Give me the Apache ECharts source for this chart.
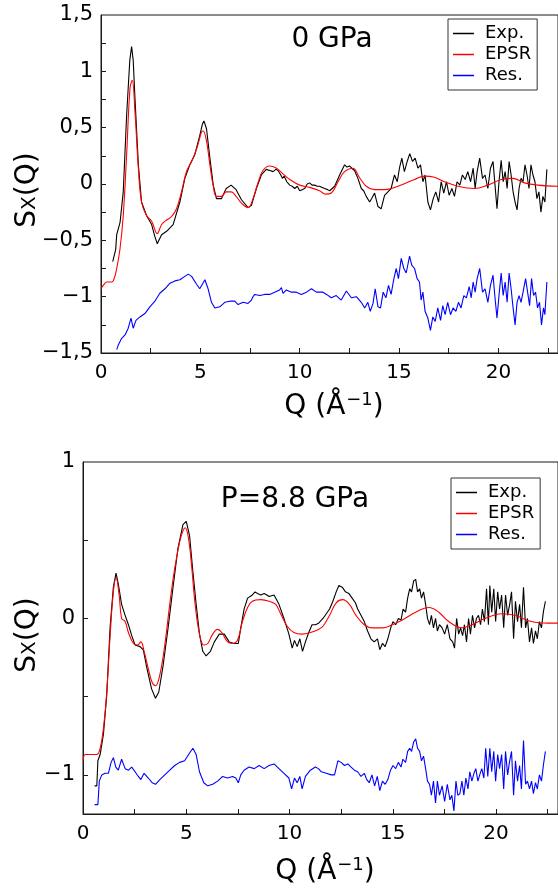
<!DOCTYPE html>
<html>
<head>
<meta charset="utf-8">
<script src="https://cdn.jsdelivr.net/npm/echarts@6/dist/echarts.min.js"></script>
<style>
  html, body { margin: 0; padding: 0; background: #fff; }
  #chart { width: 558px; height: 894px; }
</style>
</head>
<body>
<div id="chart"></div>
<script>
// ---- Panel labels and tick values ----
const panelTitles = ['0 GPa', 'P=8.8 GPa'];
const seriesNames = ['Exp.', 'EPSR', 'Res.'];
const qTicks = [2.5, 5, 7.5, 10, 12.5, 15, 17.5, 20, 22.5];
const qLabels = [0, 5, 10, 15, 20];
const topYTicks = [-1.25, -1, -0.75, -0.5, -0.25, 0, 0.25, 0.5, 0.75, 1, 1.25];
const topYLabels = [-1.5, -1, -0.5, 0, 0.5, 1, 1.5];
const bottomYTicks = [-1, -0.5, 0, 0.5];
const bottomYLabels = [-1, 0, 1];

// ---- 0 GPa: [Q, S(Q)] ----
const exp0 = [[0.59,-0.69],[0.69,-0.70],[0.74,-0.58],[0.79,-0.45],[0.96,-0.34],[1.12,-0.07],[1.29,0.61],[1.45,1.10],[1.54,1.22],[1.62,1.10],[1.71,0.76],[1.88,0.17],[2.04,-0.16],[2.29,-0.28],[2.55,-0.36],[2.70,-0.46],[2.83,-0.53],[3.05,-0.45],[3.30,-0.42],[3.63,-0.36],[3.97,-0.16],[4.22,0.05],[4.47,0.17],[4.72,0.26],[4.97,0.43],[5.10,0.53],[5.18,0.56],[5.31,0.49],[5.48,0.23],[5.65,-0.01],[5.81,-0.13],[6.06,-0.13],[6.30,-0.04],[6.55,-0.01],[6.80,-0.05],[7.07,-0.14],[7.40,-0.21],[7.57,-0.19],[7.82,-0.04],[8.07,0.08],[8.32,0.13],[8.50,0.12],[8.66,0.11],[8.80,0.13],[8.91,0.12],[9.05,0.08],[9.13,0.05],[9.22,0.07],[9.35,0.02],[9.50,-0.01],[9.62,-0.02],[9.75,-0.04],[9.88,-0.02],[10.00,-0.06],[10.12,-0.05],[10.25,-0.04],[10.38,0.00],[10.50,0.01],[10.62,-0.01],[10.75,-0.01],[10.88,-0.02],[11.00,-0.02],[11.13,-0.03],[11.26,-0.04],[11.40,-0.05],[11.51,-0.06],[11.60,-0.05],[11.76,-0.02],[12.01,0.08],[12.26,0.17],[12.38,0.15],[12.51,0.16],[12.62,0.14],[12.76,0.12],[12.93,0.05],[13.10,-0.04],[13.22,-0.06],[13.35,-0.11],[13.52,-0.16],[13.65,-0.12],[13.77,-0.08],[13.94,-0.20],[14.10,-0.22],[14.27,-0.10],[14.44,-0.07],[14.60,-0.04],[14.77,0.08],[14.91,0.02],[15.02,0.14],[15.14,0.23],[15.27,0.11],[15.41,0.20],[15.54,0.27],[15.68,0.20],[15.81,0.23],[15.95,0.14],[16.08,0.17],[16.20,0.02],[16.31,0.08],[16.45,-0.16],[16.58,-0.23],[16.72,-0.13],[16.85,-0.07],[16.99,-0.16],[17.12,0.02],[17.25,-0.08],[17.39,0.02],[17.52,-0.10],[17.66,-0.04],[17.79,-0.11],[17.92,0.02],[18.06,-0.01],[18.19,0.08],[18.33,0.04],[18.46,0.11],[18.60,0.02],[18.73,0.14],[18.83,-0.04],[18.93,0.11],[19.06,0.23],[19.20,0.05],[19.33,0.08],[19.47,-0.04],[19.60,0.14],[19.73,0.20],[19.83,-0.01],[19.93,-0.22],[20.03,0.02],[20.14,0.21],[20.24,0.02],[20.34,0.11],[20.44,-0.04],[20.54,0.20],[20.64,0.08],[20.74,-0.07],[20.84,-0.16],[20.94,-0.23],[21.04,-0.04],[21.14,0.05],[21.24,0.02],[21.34,0.17],[21.44,0.08],[21.54,-0.04],[21.64,0.17],[21.74,0.08],[21.84,0.02],[21.94,-0.13],[22.04,-0.07],[22.14,-0.25],[22.24,-0.11],[22.34,-0.16],[22.44,0.13]];
const epsr0 = [[0,-0.93],[0.15,-0.89],[0.29,-0.87],[0.54,-0.87],[0.68,-0.83],[0.79,-0.75],[0.96,-0.57],[1.12,-0.28],[1.29,0.26],[1.46,0.85],[1.57,0.92],[1.71,0.64],[1.88,0.14],[2.04,-0.16],[2.29,-0.28],[2.55,-0.33],[2.83,-0.44],[3.05,-0.36],[3.30,-0.32],[3.55,-0.29],[3.80,-0.22],[4.05,-0.07],[4.30,0.11],[4.56,0.20],[4.81,0.31],[5.06,0.46],[5.14,0.47],[5.31,0.38],[5.48,0.17],[5.65,-0.02],[5.81,-0.11],[6.06,-0.11],[6.30,-0.07],[6.55,-0.07],[6.80,-0.11],[7.07,-0.17],[7.40,-0.21],[7.65,-0.13],[7.90,0.01],[8.15,0.12],[8.49,0.16],[8.83,0.14],[9.16,0.09],[9.50,0.04],[10.00,-0.01],[10.50,-0.03],[11.00,-0.06],[11.30,-0.09],[11.59,-0.08],[11.93,0.02],[12.26,0.11],[12.68,0.14],[13.00,0.06],[13.35,-0.02],[13.77,-0.05],[14.27,-0.05],[14.94,-0.02],[15.78,0.04],[16.28,0.07],[16.78,0.06],[17.29,0.02],[17.96,-0.02],[18.79,-0.04],[19.47,-0.01],[20.14,0.04],[20.72,0.05],[21.31,0.01],[21.98,-0.01],[23.00,-0.02]];
const res0 = [[0.79,-1.47],[0.87,-1.43],[1.04,-1.37],[1.21,-1.34],[1.37,-1.28],[1.51,-1.19],[1.62,-1.28],[1.76,-1.21],[1.96,-1.18],[2.21,-1.15],[2.46,-1.09],[2.71,-1.04],[2.96,-0.97],[3.22,-0.93],[3.47,-0.88],[3.72,-0.86],[3.97,-0.85],[4.22,-0.82],[4.39,-0.80],[4.56,-0.82],[4.81,-0.89],[4.97,-0.93],[5.23,-0.85],[5.39,-0.93],[5.56,-1.05],[5.73,-1.10],[5.98,-1.09],[6.23,-1.05],[6.48,-1.04],[6.73,-1.04],[6.90,-1.07],[7.15,-1.05],[7.40,-1.06],[7.57,-1.03],[7.65,-1.00],[7.74,-0.98],[7.99,-0.99],[8.24,-0.98],[8.49,-0.98],[8.74,-0.96],[8.99,-0.94],[9.08,-0.92],[9.16,-0.97],[9.33,-0.94],[9.58,-0.96],[9.83,-0.96],[10.08,-0.98],[10.34,-0.96],[10.59,-0.93],[10.84,-0.96],[11.17,-0.96],[11.35,-0.98],[11.59,-1.01],[11.84,-0.99],[12.09,-1.03],[12.35,-0.95],[12.60,-1.01],[12.85,-1.00],[13.10,-1.05],[13.27,-1.10],[13.43,-1.05],[13.55,-1.13],[13.69,-1.06],[13.80,-0.93],[13.94,-1.09],[14.07,-1.10],[14.20,-0.96],[14.34,-1.01],[14.47,-0.90],[14.60,-0.98],[14.74,-0.84],[14.86,-0.75],[14.97,-0.84],[15.11,-0.66],[15.24,-0.75],[15.36,-0.79],[15.53,-0.64],[15.64,-0.72],[15.78,-0.75],[15.91,-0.84],[16.03,-0.87],[16.11,-1.03],[16.20,-0.96],[16.31,-1.13],[16.45,-1.19],[16.58,-1.30],[16.70,-1.18],[16.82,-1.22],[16.95,-1.10],[17.09,-1.21],[17.20,-1.08],[17.32,-1.16],[17.45,-1.05],[17.59,-1.16],[17.72,-1.10],[17.86,-1.13],[17.99,-1.05],[18.12,-1.10],[18.26,-0.99],[18.39,-1.01],[18.53,-0.91],[18.63,-1.01],[18.73,-0.87],[18.83,-0.96],[18.93,-0.84],[19.06,-0.75],[19.20,-0.96],[19.33,-0.93],[19.47,-1.05],[19.60,-0.90],[19.73,-0.81],[19.83,-1.01],[19.93,-1.19],[20.03,-0.99],[20.14,-0.79],[20.24,-0.99],[20.34,-0.87],[20.44,-1.05],[20.54,-0.79],[20.64,-0.93],[20.74,-1.10],[20.84,-1.25],[20.94,-1.05],[21.04,-0.99],[21.14,-1.05],[21.24,-0.96],[21.37,-0.84],[21.47,-0.96],[21.57,-1.08],[21.67,-0.84],[21.77,-0.99],[21.87,-0.96],[21.97,-1.10],[22.07,-1.05],[22.17,-1.25],[22.27,-1.10],[22.34,-1.16],[22.44,-0.87]];

// ---- 8.8 GPa: [Q, S(Q)] ----
const exp88 = [[0.56,-1.07],[0.67,-1.07],[0.72,-0.91],[0.83,-0.87],[0.99,-0.74],[1.15,-0.49],[1.31,-0.06],[1.47,0.20],[1.60,0.29],[1.71,0.22],[1.87,0.09],[2.04,0.02],[2.20,-0.04],[2.36,-0.11],[2.52,-0.17],[2.76,-0.18],[2.92,-0.20],[3.08,-0.31],[3.32,-0.45],[3.51,-0.51],[3.67,-0.47],[3.88,-0.30],[4.12,-0.06],[4.36,0.20],[4.60,0.45],[4.84,0.60],[5.00,0.62],[5.16,0.53],[5.32,0.30],[5.48,0.09],[5.64,-0.10],[5.80,-0.21],[5.96,-0.24],[6.17,-0.21],[6.36,-0.15],[6.60,-0.10],[6.84,-0.10],[7.08,-0.15],[7.32,-0.16],[7.52,-0.16],[7.64,-0.06],[7.80,0.06],[7.97,0.13],[8.20,0.15],[8.33,0.17],[8.45,0.16],[8.61,0.15],[8.77,0.16],[8.90,0.15],[9.01,0.14],[9.25,0.15],[9.49,0.09],[9.73,0.00],[9.97,-0.10],[10.13,-0.19],[10.24,-0.14],[10.37,-0.18],[10.50,-0.13],[10.63,-0.21],[10.77,-0.15],[10.93,-0.09],[11.09,-0.04],[11.25,-0.04],[11.41,-0.03],[11.62,0.00],[11.78,0.03],[11.94,0.06],[12.10,0.11],[12.26,0.17],[12.39,0.21],[12.55,0.20],[12.71,0.17],[12.87,0.16],[13.03,0.13],[13.19,0.10],[13.30,0.06],[13.46,0.02],[13.62,-0.02],[13.78,-0.08],[13.94,-0.13],[14.10,-0.15],[14.26,-0.13],[14.37,-0.20],[14.50,-0.16],[14.63,-0.18],[14.76,-0.13],[14.90,-0.06],[15.01,-0.02],[15.14,-0.04],[15.27,0.00],[15.40,-0.01],[15.50,0.06],[15.62,0.04],[15.72,0.13],[15.82,0.19],[15.91,0.17],[16.01,0.24],[16.11,0.25],[16.20,0.17],[16.30,0.19],[16.39,0.13],[16.49,0.17],[16.59,0.09],[16.68,0.00],[16.78,-0.04],[16.87,0.02],[16.97,-0.06],[17.07,0.00],[17.16,-0.08],[17.26,-0.04],[17.39,-0.06],[17.51,-0.10],[17.64,-0.04],[17.77,-0.13],[17.90,-0.15],[17.99,-0.19],[18.09,0.00],[18.19,-0.10],[18.28,-0.06],[18.38,-0.11],[18.47,-0.04],[18.57,-0.15],[18.67,0.00],[18.76,-0.10],[18.86,0.02],[18.96,-0.06],[19.05,0.00],[19.15,0.02],[19.25,-0.04],[19.34,0.06],[19.44,-0.02],[19.54,0.19],[19.63,-0.04],[19.70,0.21],[19.79,0.04],[19.89,0.19],[19.98,-0.02],[20.08,0.17],[20.17,0.06],[20.27,0.15],[20.37,-0.06],[20.46,0.15],[20.56,0.02],[20.66,0.09],[20.75,0.17],[20.85,-0.13],[20.94,0.11],[21.04,-0.02],[21.14,0.09],[21.23,-0.06],[21.33,0.20],[21.43,-0.06],[21.52,0.00],[21.62,-0.15],[21.72,-0.06],[21.81,-0.16],[21.91,-0.08],[22.00,-0.13],[22.10,-0.02],[22.20,-0.06],[22.29,0.04],[22.39,0.11]];
const epsr88 = [[0,-0.91],[0.11,-0.87],[0.35,-0.87],[0.67,-0.87],[0.83,-0.83],[0.99,-0.70],[1.15,-0.47],[1.31,-0.12],[1.47,0.17],[1.60,0.26],[1.75,0.15],[1.87,0.00],[2.04,-0.02],[2.20,-0.09],[2.44,-0.16],[2.64,-0.17],[2.80,-0.15],[2.96,-0.21],[3.16,-0.32],[3.35,-0.41],[3.51,-0.43],[3.72,-0.36],[3.96,-0.17],[4.20,0.09],[4.44,0.32],[4.68,0.49],[4.84,0.56],[4.95,0.58],[5.11,0.51],[5.27,0.32],[5.43,0.09],[5.64,-0.10],[5.85,-0.17],[6.04,-0.16],[6.28,-0.10],[6.52,-0.07],[6.72,-0.09],[7.00,-0.15],[7.24,-0.16],[7.48,-0.14],[7.72,-0.02],[7.97,0.07],[8.20,0.11],[8.61,0.12],[9.01,0.11],[9.33,0.09],[9.57,0.03],[9.89,-0.05],[10.21,-0.09],[10.61,-0.10],[11.01,-0.09],[11.40,-0.07],[11.62,-0.05],[11.94,0.02],[12.26,0.10],[12.58,0.12],[12.90,0.09],[13.22,0.02],[13.62,-0.04],[14.02,-0.06],[14.50,-0.06],[14.98,-0.04],[15.46,-0.01],[16.11,0.04],[16.75,0.07],[17.23,0.04],[17.71,-0.02],[18.35,-0.06],[18.83,-0.04],[19.47,0.00],[20.27,0.03],[20.91,0.02],[21.72,-0.02],[22.52,-0.03],[23.00,-0.03]];
const res88 = [[0.56,-1.19],[0.72,-1.19],[0.79,-1.04],[0.91,-1.00],[1.07,-0.99],[1.23,-0.99],[1.36,-0.92],[1.47,-0.89],[1.59,-0.95],[1.71,-0.97],[1.87,-0.90],[2.04,-0.96],[2.20,-0.97],[2.36,-0.95],[2.52,-0.98],[2.68,-1.01],[2.80,-1.03],[2.96,-0.99],[3.16,-1.02],[3.35,-1.05],[3.51,-1.06],[3.72,-1.03],[3.96,-1.00],[4.20,-0.97],[4.44,-0.94],[4.68,-0.92],[4.92,-0.91],[5.16,-0.86],[5.32,-0.83],[5.48,-0.87],[5.64,-0.98],[5.85,-1.05],[6.04,-1.07],[6.28,-1.06],[6.52,-1.04],[6.76,-1.01],[7.00,-1.02],[7.24,-1.01],[7.40,-1.02],[7.52,-1.05],[7.64,-1.00],[7.80,-0.97],[8.04,-0.95],[8.29,-0.96],[8.53,-0.94],[8.77,-0.96],[9.01,-0.94],[9.25,-0.93],[9.49,-0.96],[9.73,-0.99],[9.97,-1.02],[10.10,-1.09],[10.24,-1.02],[10.37,-1.05],[10.50,-1.01],[10.61,-1.09],[10.77,-1.01],[11.01,-0.97],[11.25,-0.95],[11.40,-0.96],[11.54,-0.98],[11.78,-0.99],[12.02,-1.00],[12.18,-1.00],[12.34,-0.91],[12.50,-0.92],[12.66,-0.94],[12.82,-0.93],[12.98,-0.95],[13.14,-0.97],[13.30,-0.98],[13.46,-1.01],[13.62,-0.99],[13.74,-1.03],[13.86,-1.05],[13.99,-1.00],[14.12,-1.07],[14.25,-1.01],[14.37,-1.10],[14.50,-1.04],[14.63,-1.06],[14.76,-1.03],[14.89,-0.97],[15.01,-0.94],[15.14,-0.96],[15.27,-0.92],[15.40,-0.95],[15.49,-0.90],[15.62,-0.92],[15.72,-0.85],[15.82,-0.83],[15.91,-0.85],[16.01,-0.79],[16.11,-0.77],[16.20,-0.83],[16.30,-0.85],[16.39,-0.91],[16.49,-0.88],[16.59,-0.96],[16.68,-1.04],[16.78,-1.06],[16.87,-1.13],[16.97,-1.04],[17.07,-1.18],[17.16,-1.04],[17.26,-1.13],[17.39,-1.07],[17.51,-1.17],[17.64,-1.06],[17.77,-1.16],[17.86,-1.13],[17.96,-1.23],[18.06,-1.04],[18.15,-1.13],[18.25,-1.12],[18.35,-1.04],[18.44,-1.13],[18.54,-1.02],[18.64,-1.09],[18.73,-0.98],[18.83,-1.04],[18.93,-0.99],[19.02,-0.96],[19.12,-1.04],[19.21,-1.00],[19.31,-0.96],[19.41,-1.02],[19.50,-0.83],[19.60,-1.01],[19.70,-0.83],[19.79,-0.98],[19.89,-0.85],[19.98,-1.04],[20.08,-0.87],[20.17,-0.96],[20.27,-0.87],[20.37,-1.09],[20.46,-0.85],[20.56,-1.00],[20.66,-0.91],[20.75,-0.85],[20.85,-1.13],[20.94,-0.91],[21.04,-1.04],[21.14,-0.94],[21.23,-1.09],[21.33,-0.78],[21.43,-1.06],[21.52,-1.04],[21.62,-1.09],[21.72,-1.04],[21.81,-1.12],[21.91,-1.05],[22.00,-1.09],[22.10,-1.00],[22.20,-1.04],[22.29,-0.94],[22.39,-0.85]];

// ---- Styling ----
const FONT = '"DejaVu Sans", "Noto Sans", sans-serif';
const AXIS_COLOR = '#1a1a1a';
const COLORS = { exp: '#000000', epsr: '#ff0000', res: '#0000ff' };

function decimalComma(v) {
  const s = String(Math.abs(Math.round(v * 100) / 100)).replace('.', ',');
  return v < 0 ? '\u2212' + s : s;
}

function xAxisFor(gridIndex) {
  return {
    type: 'value', gridIndex, min: 0, max: 23,
    axisLine: { show: true, onZero: false, lineStyle: { color: AXIS_COLOR, width: 1 } },
    axisTick: { show: true, inside: true, length: 5, customValues: qTicks, lineStyle: { color: AXIS_COLOR } },
    axisLabel: { customValues: qLabels, color: '#000', fontSize: 20, fontFamily: FONT, margin: 10 },
    splitLine: { show: false }
  };
}

function yAxisFor(gridIndex, min, max, ticks, labels, fontSize) {
  return {
    type: 'value', gridIndex, min, max,
    axisLine: { show: true, onZero: false, lineStyle: { color: AXIS_COLOR, width: 1 } },
    axisTick: { show: true, inside: true, length: 5, customValues: ticks, lineStyle: { color: AXIS_COLOR } },
    axisLabel: { customValues: labels, formatter: decimalComma, color: '#000', fontSize, fontFamily: FONT, margin: 8 },
    splitLine: { show: false }
  };
}

function lineSeries(name, data, color, axisIndex, smooth) {
  return {
    name, type: 'line', data,
    xAxisIndex: axisIndex, yAxisIndex: axisIndex,
    showSymbol: false, symbol: 'none', smooth: smooth || false,
    lineStyle: { color, width: 1.1 }, itemStyle: { color },
    animation: false
  };
}

function legendFor(left, top) {
  return {
    orient: 'vertical', left, top,
    data: seriesNames,
    icon: 'rect', itemWidth: 21, itemHeight: 1.5, itemGap: 2,
    padding: [5, 6, 5, 5],
    borderColor: '#333', borderWidth: 1, backgroundColor: '#fff',
    selectedMode: false,
    textStyle: { color: '#000', fontSize: 18, fontFamily: FONT, lineHeight: 19, padding: [0, 0, 0, 6] }
  };
}

function label(text, x, y, size, opts) {
  return Object.assign({
    type: 'text', x, y, z: 100,
    style: { text, font: size + 'px ' + FONT, fill: '#000', align: 'center', verticalAlign: 'middle' }
  }, opts || {});
}

// Axis titles with a raised exponent (Q axis) and a lowered index (S axis)
const titleRich = {
  m: { fontSize: 28, fontFamily: FONT, color: '#000', lineHeight: 34 },
  sup: { fontSize: 18, fontFamily: FONT, color: '#000', lineHeight: 34, padding: [0, 0, 13, 1] },
  sub: { fontSize: 20, fontFamily: FONT, color: '#000', lineHeight: 34, padding: [4, 0, 0, 0] }
};
function richLabel(text, x, y, rotation) {
  return {
    type: 'text', x, y, rotation: rotation || 0, z: 100,
    style: { text, rich: titleRich, align: 'center', verticalAlign: 'middle' }
  };
}
const qTitle = '{m|Q (\u00C5}{sup|\u22121}{m|)}';
const sTitle = '{m|S}{sub|X}{m|(Q)}';

const chart = echarts.init(document.getElementById('chart'), null, { renderer: 'canvas' });
chart.setOption({
  backgroundColor: '#fff',
  animation: false,
  grid: [
    { left: 101, top: 15, width: 458, height: 338, show: true, borderColor: AXIS_COLOR, borderWidth: 1, backgroundColor: 'transparent' },
    { left: 83, top: 462, width: 478, height: 352, show: true, borderColor: AXIS_COLOR, borderWidth: 1, backgroundColor: 'transparent' }
  ],
  xAxis: [xAxisFor(0), xAxisFor(1)],
  yAxis: [
    yAxisFor(0, -1.5, 1.5, topYTicks, topYLabels, 21),
    yAxisFor(1, -1.25, 1, bottomYTicks, bottomYLabels, 21)
  ],
  legend: [legendFor(448, 19), legendFor(451, 478)],
  series: [
    lineSeries('Exp.', exp0, COLORS.exp, 0),
    lineSeries('EPSR', epsr0, COLORS.epsr, 0, 0.4),
    lineSeries('Res.', res0, COLORS.res, 0),
    lineSeries('Exp.', exp88, COLORS.exp, 1),
    lineSeries('EPSR', epsr88, COLORS.epsr, 1, 0.4),
    lineSeries('Res.', res88, COLORS.res, 1)
  ],
  graphic: [
    label(panelTitles[0], 332, 40, 28),
    label(panelTitles[1], 295, 500, 28),
    richLabel(qTitle, 334, 407),
    richLabel(qTitle, 325, 872),
    richLabel(sTitle, 28, 190, Math.PI / 2),
    richLabel(sTitle, 28, 635, Math.PI / 2)
  ]
});
</script>
</body>
</html>
